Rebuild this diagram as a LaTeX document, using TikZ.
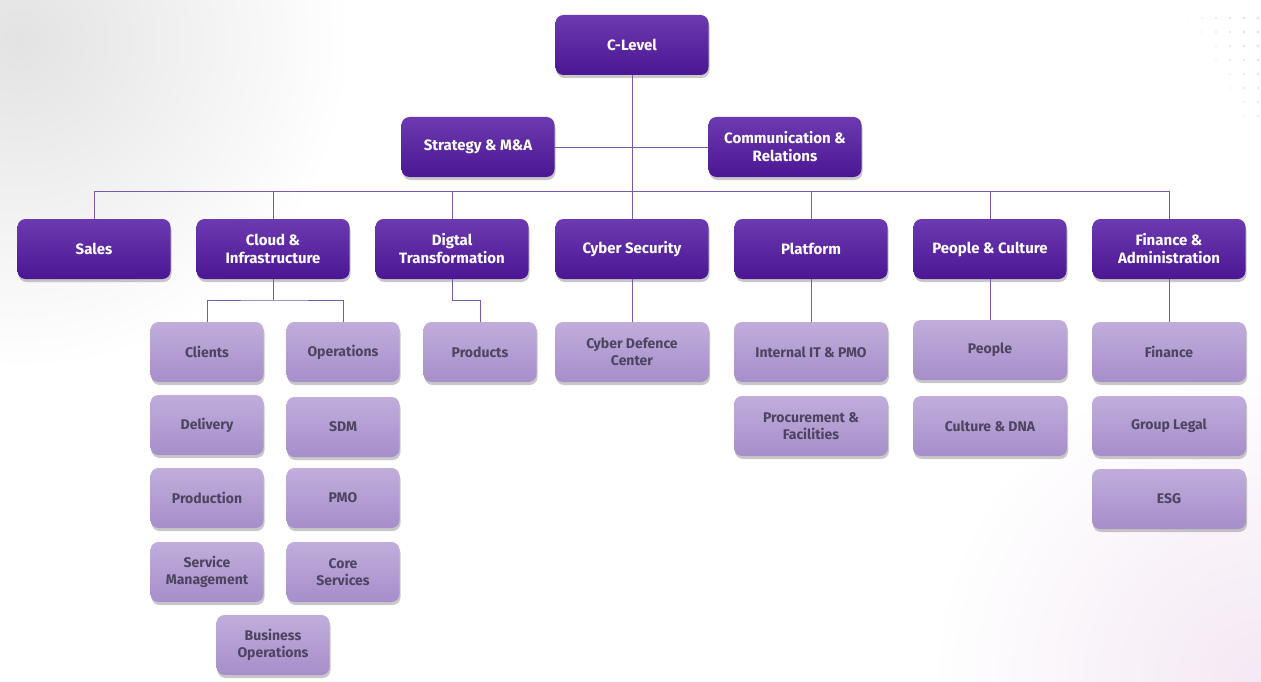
\documentclass[tikz,border=0pt]{standalone}
\usepackage{fontspec}
\setmainfont{Fira Sans}
\usetikzlibrary{shadows,calc}
\definecolor{darktop}{HTML}{6C3AB0}
\definecolor{darkbot}{HTML}{4B1693}
\definecolor{lighttop}{HTML}{C1ADDC}
\definecolor{lightbot}{HTML}{A68ECA}
\definecolor{lighttext}{HTML}{4D4560}
\definecolor{connc}{HTML}{7A5AA8}
\begin{document}
\begin{tikzpicture}[x=1pt,y=-1pt,
  box/.style={rounded corners=8pt, align=center, inner sep=2pt,
    drop shadow={shadow xshift=1pt, shadow yshift=-3pt, opacity=0.3, fill=black!70}},
  darkbox/.style={box, minimum width=153pt, minimum height=60pt,
    font=\bfseries\fontsize{15}{18}\selectfont,
    top color=darktop, bottom color=darkbot, text=white},
  lightbox/.style={box, minimum width=113pt, minimum height=60pt,
    font=\bfseries\fontsize{14}{16.5}\selectfont,
    top color=lighttop, bottom color=lightbot, text=lighttext},
  widelight/.style={lightbox, minimum width=154pt},
  conn/.style={draw=connc, line width=0.8pt}]
\useasboundingbox (0,0) rectangle (1261,682);
\begin{scope}
\clip (0,0) rectangle (1261,682);
\fill[white] (0,0) rectangle (1261,682);
\shade[inner color=black!11, outer color=white] (20,40) circle (330pt);
\shade[inner color=violet!9, outer color=white] (1261,682) circle (330pt);
\foreach \i in {0,...,5}{
  \foreach \j in {0,...,7}{
    \pgfmathsetmacro{\op}{max(0,min(1,(\i*0.25 - \j*0.12 + 0.1)))}
    \fill[black!12, opacity=\op] (1188+\i*14, 18+\j*14) circle (1.3pt);
  }
}
\end{scope}

% top
\node[darkbox] (clevel) at (632,45) {C-Level};
\node[darkbox] (strat) at (478,147) {Strategy \& M\&A};
\node[darkbox] (comm) at (785,147) {Communication \&\\Relations};

% row 2
\node[darkbox] (sales) at (94,249) {Sales};
\node[darkbox] (cloud) at (273,249) {Cloud \&\\Infrastructure};
\node[darkbox] (digital) at (452,249) {Digtal\\Transformation};
\node[darkbox] (cyber) at (632,249) {Cyber Security};
\node[darkbox] (platform) at (811,249) {Platform};
\node[darkbox] (peoplec) at (990,249) {People \& Culture};
\node[darkbox] (finadm) at (1169,249) {Finance \&\\Administration};

% cloud children
\node[lightbox] (clients) at (207,352) {Clients};
\node[lightbox] (ops) at (343,352) {Operations};
\node[lightbox] (delivery) at (207,425) {Delivery};
\node[lightbox] (sdm) at (343,427) {SDM};
\node[lightbox] (production) at (207,498) {Production};
\node[lightbox] (pmo) at (343,498) {PMO};
\node[lightbox] (servmgmt) at (207,572) {Service\\Management};
\node[lightbox] (core) at (343,572) {Core\\Services};
\node[lightbox] (busops) at (273,645) {Business\\Operations};

% others
\node[lightbox] (products) at (480,352) {Products};
\node[widelight] (cdc) at (632,352) {Cyber Defence\\Center};
\node[widelight] (intit) at (811,352) {Internal IT \& PMO};
\node[widelight] (procure) at (811,426) {Procurement \&\\Facilities};
\node[widelight] (people) at (990,350) {People};
\node[widelight] (culture) at (990,426) {Culture \& DNA};
\node[widelight] (finance) at (1169,352) {Finance};
\node[widelight] (legal) at (1169,426) {Group Legal};
\node[widelight] (esg) at (1169,499) {ESG};

% connectors
\coordinate (bus) at (632,191);
\draw[conn] (clevel) -- (cyber);
\draw[conn] (strat.east) -- (comm.west);
\draw[conn] (sales.north) -- (sales.north |- bus) -- (finadm.north |- bus) -- (finadm.north);
\foreach \n in {cloud,digital,platform,peoplec}{
  \draw[conn] (\n.north) -- (\n.north |- bus);
}
\coordinate (cj) at (273,300);
\draw[conn] (cloud.south) -- (cj);
\draw[conn] (clients.north) |- (cj) -| (ops.north);
\draw[conn] (digital.south) -- ++(0,21) -| (products.north);
\draw[conn] (cyber) -- (cdc);
\draw[conn] (platform) -- (intit);
\draw[conn] (peoplec) -- (people);
\draw[conn] (finadm) -- (finance);
\end{tikzpicture}
\end{document}
